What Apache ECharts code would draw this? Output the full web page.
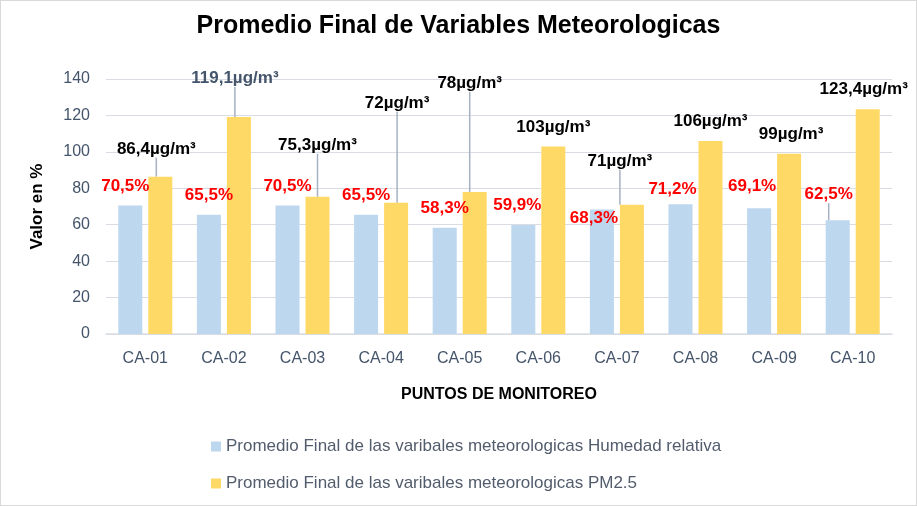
<!DOCTYPE html>
<html>
<head>
<meta charset="utf-8">
<title>Promedio Final de Variables Meteorologicas</title>
<script src="https://cdn.jsdelivr.net/npm/echarts@6/dist/echarts.min.js"></script>
<style>
  html, body { margin: 0; padding: 0; background: #fff; }
  #chart { width: 917px; height: 506px; box-sizing: border-box; border: 1px solid #d9d9d9; }
</style>
</head>
<body>
<div id="chart"></div>
<script>
// datos de la grafica
const categorias = ['CA-01', 'CA-02', 'CA-03', 'CA-04', 'CA-05', 'CA-06', 'CA-07', 'CA-08', 'CA-09', 'CA-10'];
const humedad = [70.5, 65.5, 70.5, 65.5, 58.3, 59.9, 68.3, 71.2, 69.1, 62.5];
const pm25 = [86.4, 119.1, 75.3, 72, 78, 103, 71, 106, 99, 123.4];
const ticksY = [0, 20, 40, 60, 80, 100, 120, 140];

// desplazamiento de etiquetas (como en el original de Excel)
const despHum = [[-5, 0], [0, 0], [0, 0], [0, 0], [0, 0], [-6, 0], [-8, 28], [-8, 4], [-7, -2], [-9, -6]];
const despPm = [[-4, -8], [-4, -19], [0, -32], [1, -80], [-5, -89], [0, 0], [-12, -24], [0, 0], [2, 0], [-4, 0]];
const lineaHum = [false, false, false, false, false, false, false, false, false, true];
const lineaPm = [true, true, true, true, true, false, true, false, false, false];

const fuente = '"Liberation Sans", Arial, sans-serif';
const coma = v => String(v).replace('.', ',');

let myChart = echarts.init(document.getElementById('chart'));

let option = {
    backgroundColor: '#fff',
    textStyle: { fontFamily: fuente },
    title: {
        text: 'Promedio Final de Variables Meteorologicas',
        left: 'center',
        top: 8,
        textStyle: { fontFamily: fuente, fontSize: 25, fontWeight: 'bold', color: '#000' }
    },
    grid: { left: 105, right: 24, top: 78, bottom: 171, containLabel: false },
    legend: {
        orient: 'vertical',
        left: 205,
        top: 432,
        itemWidth: 10,
        itemHeight: 10,
        itemGap: 20,
        icon: 'rect',
        textStyle: { fontFamily: fuente, fontSize: 17, color: '#525c6c' },
        data: [
            'Promedio Final de las varibales meteorologicas Humedad relativa',
            'Promedio Final de las varibales meteorologicas PM2.5'
        ]
    },
    xAxis: {
        type: 'category',
        data: categorias,
        name: 'PUNTOS DE MONITOREO',
        nameLocation: 'middle',
        nameGap: 53,
        nameTextStyle: { fontFamily: fuente, fontSize: 16, fontWeight: 'bold', color: '#000' },
        axisLine: { lineStyle: { color: '#d9dde3', width: 1.5 } },
        axisTick: { show: false },
        axisLabel: { fontFamily: fuente, fontSize: 16, color: '#44546a', margin: 17 }
    },
    yAxis: {
        type: 'value',
        min: ticksY[0],
        max: ticksY[ticksY.length - 1],
        interval: ticksY[1] - ticksY[0],
        name: 'Valor en %',
        nameLocation: 'middle',
        nameGap: 60,
        nameTextStyle: { fontFamily: fuente, fontSize: 17, fontWeight: 'bold', color: '#000' },
        axisLine: { show: false },
        axisTick: { show: false },
        axisLabel: { fontFamily: fuente, fontSize: 16, color: '#44546a', margin: 16 },
        splitLine: { lineStyle: { color: '#d9dde3', width: 1 } }
    },
    series: [
        {
            name: 'Promedio Final de las varibales meteorologicas Humedad relativa',
            type: 'bar',
            barWidth: 24,
            barGap: '25%',
            itemStyle: { color: '#bdd7ee' },
            data: humedad.map((v, i) => ({
                value: v,
                labelLine: { show: lineaHum[i] }
            })),
            label: {
                show: true,
                position: 'top',
                distance: 11,
                formatter: p => coma(p.value) + '%',
                fontFamily: fuente,
                fontSize: 17,
                fontWeight: 'bold',
                color: '#ff0000'
            },
            labelLine: { lineStyle: { color: '#a6b1c2', width: 1.5 } },
            labelLayout: p => ({ dx: despHum[p.dataIndex][0], dy: despHum[p.dataIndex][1] })
        },
        {
            name: 'Promedio Final de las varibales meteorologicas PM2.5',
            type: 'bar',
            barWidth: 24,
            barGap: '25%',
            itemStyle: { color: '#ffd966' },
            data: pm25.map((v, i) => ({
                value: v,
                labelLine: { show: lineaPm[i] },
                label: i === 1 ? { color: '#44546a' } : {}
            })),
            label: {
                show: true,
                position: 'top',
                distance: 11,
                formatter: p => coma(p.value) + 'µg/m³',
                fontFamily: fuente,
                fontSize: 17,
                fontWeight: 'bold',
                color: '#000'
            },
            labelLine: { lineStyle: { color: '#a6b1c2', width: 1.5 } },
            labelLayout: p => ({ dx: despPm[p.dataIndex][0], dy: despPm[p.dataIndex][1] })
        }
    ]
};

myChart.setOption(option);
</script>
</body>
</html>
